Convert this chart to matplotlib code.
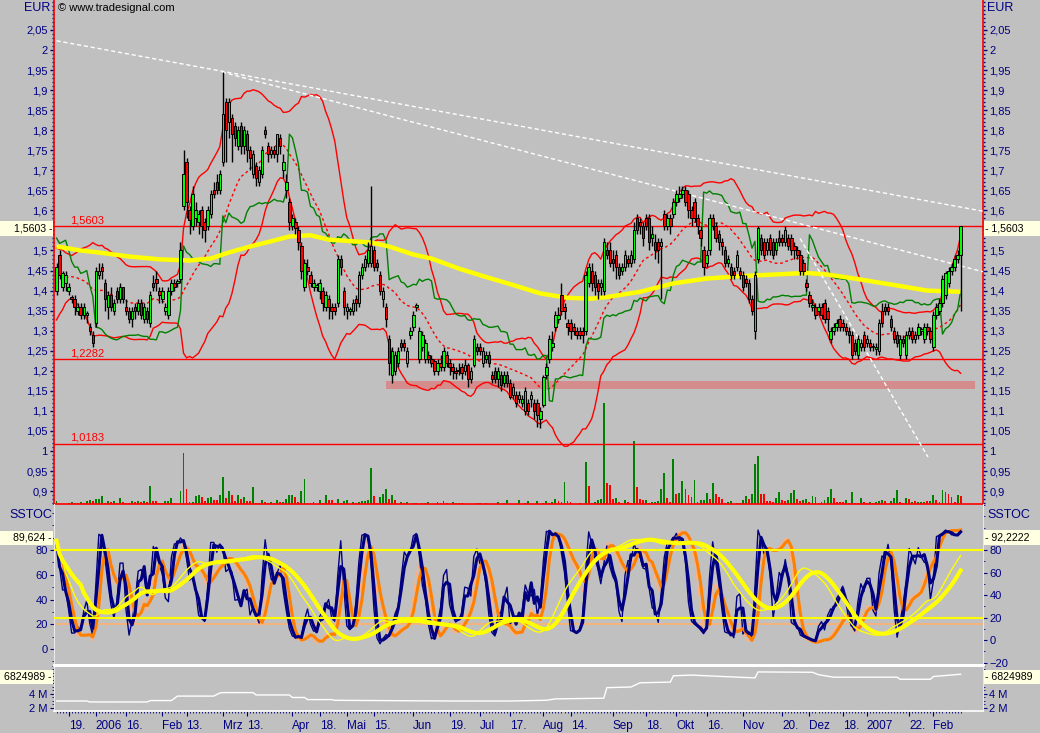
import numpy as np
import pandas as pd
import matplotlib
matplotlib.use("Agg")
import matplotlib.pyplot as plt
from matplotlib.patches import Rectangle
from matplotlib.ticker import FixedLocator, FuncFormatter

plt.rcParams['font.family'] = ['Liberation Sans', 'DejaVu Sans']
plt.rcParams['font.size'] = 8

# ---------------- data ----------------
first_day, last_day = "2005-12-13", "2007-02-14"
holidays = ["2005-12-26", "2006-04-14", "2006-04-17", "2006-05-01",
            "2006-12-25", "2006-12-26", "2007-01-01"]

opens = [
    1.40, 1.49, 1.41, 1.42, 1.40, 1.385, 1.38, 1.35, 1.36, 1.34,
    1.34, 1.31, 1.29, 1.32, 1.44, 1.46, 1.42, 1.36, 1.39, 1.35,
    1.40, 1.38, 1.41, 1.36, 1.35, 1.33, 1.36, 1.35, 1.37, 1.33,
    1.35, 1.32, 1.42, 1.43, 1.40, 1.38, 1.35, 1.34, 1.40, 1.42,
    1.42, 1.43, 1.61, 1.72, 1.60, 1.56, 1.58, 1.57, 1.60, 1.57,
    1.56, 1.59, 1.65, 1.67, 1.65, 1.72, 1.87, 1.82, 1.83, 1.81,
    1.76, 1.81, 1.76, 1.79, 1.75, 1.69, 1.71, 1.67, 1.69, 1.80,
    1.76, 1.74, 1.75, 1.74, 1.78, 1.70, 1.65, 1.62, 1.56, 1.57,
    1.55, 1.51, 1.41, 1.46, 1.44, 1.41, 1.41, 1.40, 1.40, 1.36,
    1.38, 1.36, 1.36, 1.37, 1.48, 1.40, 1.35, 1.35, 1.35, 1.38,
    1.37, 1.44, 1.46, 1.47, 1.47, 1.50, 1.47, 1.44, 1.38, 1.36,
    1.28, 1.19, 1.20, 1.22, 1.27, 1.27, 1.22, 1.29, 1.31, 1.36,
    1.23, 1.26, 1.23, 1.24, 1.23, 1.225, 1.20, 1.22, 1.21, 1.24,
    1.22, 1.21, 1.20, 1.20, 1.21, 1.20, 1.215, 1.18, 1.215, 1.26,
    1.26, 1.22, 1.23, 1.24, 1.19, 1.20, 1.18, 1.19, 1.17, 1.19,
    1.17, 1.14, 1.14, 1.13, 1.12, 1.10, 1.12, 1.13, 1.12, 1.12,
    1.08, 1.115, 1.19, 1.23, 1.26, 1.31, 1.33, 1.39, 1.36, 1.32,
    1.32, 1.31, 1.30, 1.30, 1.30, 1.30, 1.42, 1.45, 1.44, 1.42,
    1.41, 1.40, 1.50, 1.50, 1.48, 1.49, 1.46, 1.45, 1.46, 1.48,
    1.47, 1.48, 1.58, 1.57, 1.56, 1.58, 1.58, 1.53, 1.52, 1.52,
    1.51, 1.59, 1.56, 1.58, 1.59, 1.62, 1.63, 1.64, 1.65, 1.64,
    1.60, 1.62, 1.58, 1.55, 1.50, 1.47, 1.50, 1.58, 1.56, 1.54,
    1.52, 1.50, 1.47, 1.46, 1.45, 1.46, 1.45, 1.44, 1.43, 1.42,
    1.38, 1.30, 1.48, 1.53, 1.52, 1.50, 1.53, 1.52, 1.50, 1.53,
    1.53, 1.52, 1.53, 1.53, 1.51, 1.50, 1.49, 1.47, 1.42, 1.39,
    1.36, 1.36, 1.35, 1.36, 1.37, 1.35, 1.28, 1.30, 1.31, 1.33,
    1.32, 1.31, 1.30, 1.29, 1.27, 1.24, 1.26, 1.29, 1.27, 1.27,
    1.26, 1.255, 1.25, 1.35, 1.36, 1.36, 1.33, 1.30, 1.29, 1.24,
    1.28, 1.24, 1.29, 1.30, 1.28, 1.29, 1.30, 1.28, 1.31, 1.30,
    1.26, 1.34, 1.35, 1.37, 1.39, 1.42, 1.45, 1.46, 1.48, 1.49,
]
highs = [
    1.47, 1.50, 1.45, 1.45, 1.42, 1.39, 1.39, 1.37, 1.37, 1.37,
    1.35, 1.32, 1.30, 1.46, 1.47, 1.47, 1.43, 1.40, 1.41, 1.38,
    1.41, 1.42, 1.41, 1.38, 1.36, 1.36, 1.37, 1.38, 1.38, 1.37,
    1.36, 1.40, 1.44, 1.45, 1.41, 1.41, 1.37, 1.41, 1.43, 1.43,
    1.43, 1.52, 1.75, 1.73, 1.61, 1.66, 1.62, 1.60, 1.61, 1.58,
    1.61, 1.65, 1.67, 1.69, 1.70, 1.945, 1.88, 1.88, 1.84, 1.82,
    1.81, 1.82, 1.81, 1.80, 1.76, 1.75, 1.72, 1.71, 1.76, 1.81,
    1.77, 1.76, 1.76, 1.79, 1.79, 1.74, 1.69, 1.63, 1.59, 1.58,
    1.56, 1.52, 1.48, 1.48, 1.45, 1.43, 1.42, 1.43, 1.41, 1.40,
    1.39, 1.37, 1.37, 1.49, 1.49, 1.41, 1.37, 1.36, 1.38, 1.39,
    1.45, 1.47, 1.49, 1.52, 1.66, 1.51, 1.48, 1.45, 1.41, 1.37,
    1.29, 1.26, 1.25, 1.26, 1.28, 1.28, 1.26, 1.31, 1.35, 1.37,
    1.31, 1.30, 1.28, 1.25, 1.24, 1.23, 1.23, 1.24, 1.26, 1.25,
    1.23, 1.22, 1.21, 1.22, 1.22, 1.23, 1.22, 1.21, 1.29, 1.27,
    1.27, 1.26, 1.25, 1.25, 1.20, 1.21, 1.21, 1.20, 1.20, 1.20,
    1.18, 1.17, 1.15, 1.15, 1.14, 1.16, 1.13, 1.15, 1.13, 1.13,
    1.11, 1.19, 1.22, 1.29, 1.30, 1.35, 1.36, 1.42, 1.37, 1.33,
    1.33, 1.32, 1.31, 1.31, 1.31, 1.45, 1.47, 1.47, 1.45, 1.43,
    1.43, 1.53, 1.52, 1.52, 1.50, 1.50, 1.47, 1.47, 1.50, 1.49,
    1.50, 1.57, 1.59, 1.58, 1.57, 1.59, 1.59, 1.56, 1.54, 1.53,
    1.53, 1.60, 1.59, 1.59, 1.63, 1.65, 1.66, 1.66, 1.66, 1.65,
    1.61, 1.63, 1.59, 1.56, 1.51, 1.50, 1.59, 1.59, 1.57, 1.55,
    1.53, 1.51, 1.49, 1.47, 1.46, 1.50, 1.46, 1.45, 1.44, 1.43,
    1.39, 1.45, 1.56, 1.54, 1.53, 1.53, 1.54, 1.53, 1.53, 1.55,
    1.54, 1.56, 1.54, 1.54, 1.52, 1.51, 1.50, 1.48, 1.43, 1.40,
    1.38, 1.37, 1.37, 1.37, 1.38, 1.36, 1.31, 1.32, 1.33, 1.34,
    1.33, 1.32, 1.31, 1.30, 1.28, 1.29, 1.28, 1.30, 1.29, 1.28,
    1.27, 1.27, 1.33, 1.37, 1.37, 1.37, 1.34, 1.31, 1.30, 1.29,
    1.29, 1.30, 1.31, 1.31, 1.30, 1.32, 1.31, 1.32, 1.32, 1.31,
    1.35, 1.37, 1.38, 1.44, 1.45, 1.46, 1.47, 1.49, 1.50, 1.5603,
]
lows = [
    1.39, 1.43, 1.40, 1.40, 1.39, 1.37, 1.34, 1.34, 1.33, 1.33,
    1.32, 1.29, 1.26, 1.31, 1.43, 1.43, 1.35, 1.33, 1.35, 1.34,
    1.37, 1.37, 1.37, 1.34, 1.32, 1.31, 1.33, 1.34, 1.33, 1.32,
    1.32, 1.31, 1.40, 1.40, 1.37, 1.37, 1.34, 1.33, 1.39, 1.40,
    1.41, 1.42, 1.60, 1.58, 1.54, 1.55, 1.56, 1.54, 1.53, 1.52,
    1.55, 1.58, 1.63, 1.64, 1.64, 1.71, 1.72, 1.78, 1.72, 1.76,
    1.75, 1.74, 1.74, 1.72, 1.70, 1.68, 1.66, 1.66, 1.68, 1.78,
    1.72, 1.73, 1.73, 1.72, 1.74, 1.68, 1.63, 1.55, 1.55, 1.54,
    1.50, 1.43, 1.40, 1.44, 1.41, 1.40, 1.40, 1.38, 1.35, 1.35,
    1.33, 1.33, 1.34, 1.36, 1.44, 1.34, 1.33, 1.34, 1.34, 1.35,
    1.36, 1.43, 1.45, 1.46, 1.46, 1.45, 1.45, 1.39, 1.36, 1.31,
    1.19, 1.17, 1.19, 1.21, 1.25, 1.25, 1.21, 1.28, 1.30, 1.35,
    1.22, 1.25, 1.22, 1.22, 1.21, 1.19, 1.19, 1.20, 1.20, 1.21,
    1.19, 1.18, 1.18, 1.19, 1.18, 1.19, 1.16, 1.17, 1.21, 1.24,
    1.24, 1.21, 1.22, 1.21, 1.17, 1.17, 1.16, 1.15, 1.16, 1.16,
    1.13, 1.13, 1.11, 1.12, 1.11, 1.09, 1.09, 1.11, 1.08, 1.06,
    1.057, 1.11, 1.18, 1.22, 1.25, 1.30, 1.32, 1.34, 1.33, 1.29,
    1.28, 1.29, 1.28, 1.28, 1.27, 1.29, 1.41, 1.40, 1.39, 1.38,
    1.39, 1.39, 1.48, 1.46, 1.45, 1.43, 1.43, 1.44, 1.45, 1.46,
    1.46, 1.47, 1.54, 1.54, 1.51, 1.55, 1.50, 1.51, 1.48, 1.47,
    1.38, 1.55, 1.55, 1.54, 1.58, 1.61, 1.62, 1.63, 1.61, 1.58,
    1.56, 1.57, 1.54, 1.51, 1.44, 1.46, 1.49, 1.55, 1.52, 1.50,
    1.49, 1.46, 1.46, 1.43, 1.43, 1.45, 1.43, 1.40, 1.41, 1.37,
    1.34, 1.28, 1.47, 1.49, 1.48, 1.49, 1.49, 1.48, 1.49, 1.51,
    1.51, 1.51, 1.50, 1.49, 1.48, 1.48, 1.44, 1.44, 1.40, 1.36,
    1.35, 1.33, 1.34, 1.33, 1.32, 1.30, 1.27, 1.29, 1.30, 1.30,
    1.30, 1.29, 1.27, 1.23, 1.24, 1.23, 1.25, 1.25, 1.26, 1.25,
    1.25, 1.24, 1.24, 1.31, 1.34, 1.34, 1.30, 1.27, 1.26, 1.23,
    1.26, 1.23, 1.28, 1.27, 1.27, 1.28, 1.29, 1.27, 1.29, 1.27,
    1.25, 1.33, 1.34, 1.36, 1.38, 1.41, 1.44, 1.45, 1.47, 1.35,
]
closes = [
    1.46, 1.44, 1.445, 1.44, 1.41, 1.38, 1.36, 1.36, 1.34, 1.36,
    1.34, 1.30, 1.27, 1.45, 1.45, 1.45, 1.38, 1.39, 1.36, 1.37,
    1.38, 1.41, 1.38, 1.35, 1.33, 1.35, 1.35, 1.37, 1.34, 1.36,
    1.33, 1.39, 1.41, 1.42, 1.39, 1.40, 1.36, 1.40, 1.42, 1.41,
    1.42, 1.50, 1.69, 1.62, 1.575, 1.64, 1.60, 1.59, 1.56, 1.55,
    1.60, 1.64, 1.64, 1.65, 1.69, 1.84, 1.80, 1.87, 1.79, 1.78,
    1.80, 1.76, 1.80, 1.75, 1.73, 1.74, 1.68, 1.70, 1.75, 1.79,
    1.74, 1.75, 1.74, 1.79, 1.76, 1.72, 1.67, 1.57, 1.58, 1.555,
    1.52, 1.45, 1.47, 1.45, 1.42, 1.42, 1.41, 1.42, 1.37, 1.39,
    1.36, 1.35, 1.35, 1.48, 1.46, 1.36, 1.36, 1.35, 1.37, 1.37,
    1.44, 1.46, 1.48, 1.50, 1.51, 1.46, 1.46, 1.40, 1.40, 1.33,
    1.22, 1.25, 1.24, 1.25, 1.26, 1.26, 1.25, 1.30, 1.34, 1.36,
    1.30, 1.29, 1.27, 1.23, 1.22, 1.20, 1.22, 1.21, 1.25, 1.22,
    1.21, 1.20, 1.195, 1.20, 1.195, 1.215, 1.18, 1.20, 1.28, 1.25,
    1.25, 1.25, 1.24, 1.22, 1.18, 1.18, 1.20, 1.165, 1.19, 1.17,
    1.135, 1.16, 1.12, 1.14, 1.13, 1.15, 1.10, 1.14, 1.10, 1.09,
    1.10, 1.185, 1.21, 1.28, 1.27, 1.34, 1.34, 1.35, 1.35, 1.31,
    1.30, 1.30, 1.29, 1.29, 1.29, 1.44, 1.46, 1.42, 1.41, 1.40,
    1.42, 1.52, 1.49, 1.47, 1.47, 1.46, 1.44, 1.46, 1.49, 1.47,
    1.49, 1.55, 1.55, 1.56, 1.53, 1.56, 1.52, 1.54, 1.50, 1.50,
    1.52, 1.56, 1.58, 1.56, 1.62, 1.64, 1.64, 1.65, 1.62, 1.60,
    1.58, 1.58, 1.56, 1.53, 1.46, 1.49, 1.58, 1.56, 1.53, 1.52,
    1.51, 1.47, 1.48, 1.44, 1.44, 1.49, 1.44, 1.41, 1.42, 1.38,
    1.35, 1.44, 1.555, 1.50, 1.49, 1.52, 1.50, 1.49, 1.52, 1.52,
    1.52, 1.55, 1.51, 1.50, 1.50, 1.49, 1.45, 1.45, 1.41, 1.37,
    1.36, 1.34, 1.36, 1.34, 1.33, 1.33, 1.30, 1.31, 1.32, 1.31,
    1.31, 1.30, 1.29, 1.24, 1.25, 1.28, 1.27, 1.26, 1.28, 1.26,
    1.26, 1.26, 1.32, 1.32, 1.35, 1.35, 1.31, 1.28, 1.27, 1.28,
    1.27, 1.29, 1.30, 1.28, 1.29, 1.31, 1.30, 1.31, 1.30, 1.28,
    1.34, 1.36, 1.37, 1.43, 1.445, 1.45, 1.46, 1.48, 1.49, 1.5603,
]
# closes of the weeks before the visible window (needed by the indicators)
closes_before = [1.33, 1.35, 1.34, 1.37, 1.36, 1.39, 1.40, 1.42, 1.41, 1.44,
                 1.46, 1.45, 1.48, 1.47, 1.44, 1.46, 1.43, 1.45, 1.42]

volume = [
    3, 0, 0, 0, 1, 2, 1, 1, 2, 1,
    3, 4, 3, 5, 5, 8, 1, 3, 2, 3,
    1, 6, 2, 1, 1, 3, 2, 3, 2, 3,
    2, 18, 3, 3, 1, 1, 3, 3, 6, 1,
    0, 13, 51, 15, 2, 2, 8, 9, 7, 3,
    6, 7, 4, 4, 9, 27, 6, 13, 9, 3,
    9, 5, 7, 3, 3, 17, 1, 1, 4, 2,
    1, 2, 1, 4, 2, 2, 5, 9, 9, 7,
    2, 13, 25, 1, 1, 2, 0, 4, 1, 9,
    4, 4, 1, 5, 1, 3, 4, 0, 2, 1,
    2, 3, 3, 4, 36, 8, 1, 7, 10, 15,
    5, 9, 4, 0, 2, 1, 2, 0, 1, 1,
    0, 1, 1, 2, 0, 0, 2, 1, 3, 1,
    0, 2, 1, 1, 1, 0, 0, 0, 0, 1,
    1, 0, 1, 0, 0, 0, 2, 0, 1, 4,
    0, 0, 0, 4, 0, 1, 3, 0, 0, 3,
    0, 1, 3, 1, 2, 5, 3, 2, 22, 3,
    2, 0, 0, 1, 0, 42, 18, 1, 2, 4,
    5, 101, 21, 19, 5, 6, 2, 1, 4, 2,
    1, 63, 17, 5, 4, 4, 1, 2, 2, 3,
    15, 31, 6, 2, 45, 10, 11, 23, 15, 9,
    7, 24, 2, 4, 4, 11, 5, 21, 10, 7,
    5, 1, 2, 3, 0, 1, 1, 4, 8, 5,
    10, 40, 48, 10, 10, 3, 3, 2, 6, 12,
    4, 3, 4, 11, 14, 5, 3, 4, 5, 2,
    8, 7, 1, 2, 4, 7, 15, 6, 2, 2,
    2, 4, 1, 12, 1, 1, 6, 2, 1, 2,
    1, 2, 3, 4, 3, 0, 3, 6, 14, 2,
    1, 6, 5, 2, 3, 2, 2, 2, 3, 3,
    9, 4, 2, 14, 12, 10, 7, 2, 9, 8,
]
volume_dir = ("ggggggrggr" "ggrgggrgrg" "rgrrrgrgrg" "rgrrrggggr" "gggrrgggrr"
              "ggrrggrgrr" "grgrrgrggr" "rgrgrggggr" "rggrrgggrg" "rrrgrggggr"
              "gggggrrggg" "rgrggrgggr" "ggrggggrgr" "ggrgrggggg" "gggggggggg"
              "gggggggggg" "gggrggrrgr" "rgggggrrgg" "ggrrrgrrgr" "rgrrrgrggg"
              "ggrrgrggrr" "rgrgggrgrr" "rrgggggggr" "gggrrrrrgg" "rrgggrrggr"
              "grrggggrrr" "rgrgrrgrrg" "rgggrggggr" "rgrgrgggrg" "grrgrrrrgr")

# long moving average (yellow)
ma_bar = [0, 8, 14, 24, 34, 44, 51, 57, 64, 71, 77, 84, 90, 104, 110, 118, 124, 133,
          142, 151, 160, 169, 177, 182, 193, 204, 215, 226, 237, 248, 255, 264, 272,
          277, 288, 299]
ma_vals = [1.51, 1.50, 1.495, 1.485, 1.478, 1.475, 1.48, 1.495, 1.51, 1.523, 1.535,
           1.538, 1.527, 1.52, 1.51, 1.49, 1.48, 1.455, 1.434, 1.414, 1.393, 1.382,
           1.38, 1.384, 1.397, 1.418, 1.43, 1.436, 1.44, 1.444, 1.44, 1.43, 1.42,
           1.414, 1.40, 1.397]

# trend lines (bar index, price)
trend_bars = [[0, 306.4], [54.7, 306.4], [245.9, 288.2]]
trend_vals = [[2.023, 1.598], [1.945, 1.447], [1.53, 0.985]]

# horizontal levels and support zone
levels = [1.5603, 1.2282, 1.0183]
level_labels = ["1,5603", "1,2282", "1,0183"]
zone_bars = [109, 303.7]
zone_vals = [1.155, 1.175]

# lower panel line (millions)
cum_bar = [0, 10, 11, 30, 31, 38, 40, 52, 54, 55, 65, 66, 77, 78, 82, 83, 91, 92, 110,
           130, 150, 162, 165, 181, 182, 190, 193, 203, 204, 210, 220, 231, 232, 250,
           252, 257, 278, 279, 289, 290, 299]
cum_vals = [3.0, 3.0, 2.86, 2.86, 3.06, 3.06, 3.7, 3.7, 4.14, 4.2, 4.2, 3.86, 3.86,
            3.5, 3.5, 3.2, 3.2, 3.1, 3.05, 3.0, 3.0, 3.1, 3.3, 3.4, 4.9, 5.0, 5.6,
            5.7, 6.6, 6.7, 6.5, 6.3, 7.15, 7.1, 6.76, 6.4, 6.4, 6.1, 6.1, 6.5, 6.82]

last_price_text = "1,5603"
stoch_left_text = "89,624"
stoch_right_text = "92,2222"
cum_text = "6824989"

xtick_dates = ["2005-12-19", "2006-01-02", "2006-01-16", "2006-02-01", "2006-02-13",
               "2006-03-01", "2006-03-13", "2006-04-03", "2006-04-18", "2006-05-02",
               "2006-05-15", "2006-06-01", "2006-06-19", "2006-07-03", "2006-07-17",
               "2006-08-01", "2006-08-14", "2006-09-01", "2006-09-18", "2006-10-02",
               "2006-10-16", "2006-11-01", "2006-11-20", "2006-12-01", "2006-12-18",
               "2007-01-02", "2007-01-22", "2007-02-01"]
xtick_labels = ["19.", "2006", "16.", "Feb", "13.", "Mrz", "13.", "Apr", "18.", "Mai",
                "15.", "Jun", "19.", "Jul", "17.", "Aug", "14.", "Sep", "18.", "Okt",
                "16.", "Nov", "20.", "Dez", "18.", "2007", "22.", "Feb"]

# ---------------- derived series ----------------
n = min(len(opens), len(highs), len(lows), len(closes), len(volume), len(volume_dir))
o = np.array(opens[:n]); h = np.array(highs[:n]); l = np.array(lows[:n]); c = np.array(closes[:n])
x = np.arange(n)
days = pd.bdate_range(first_day, last_day)
days = days[~days.isin(pd.to_datetime(holidays))][:n]

# bollinger bands 20 / 2
allc = pd.Series(closes_before + list(c))
off = len(closes_before)
m20 = allc.rolling(20, min_periods=1).mean()
s20 = allc.rolling(20, min_periods=1).std(ddof=0)
bb_mid = m20.values[off:]
bb_up = (m20 + 2 * s20).values[off:]
bb_lo = (m20 - 2 * s20).values[off:]

hs, lw_, cs = pd.Series(h), pd.Series(l), pd.Series(c)

# volatility stop (ATR based, flips side when the close crosses it)
prev_c = cs.shift().fillna(closes_before[-1])
true_range = pd.concat([hs - lw_, (hs - prev_c).abs(), (lw_ - prev_c).abs()], axis=1).max(axis=1)
tr_all = pd.Series(list(np.abs(np.diff(closes_before))) + list(true_range))
atr = tr_all.rolling(21, min_periods=1).mean().values[-n:]
vstop = np.empty(n)
side, sic = -1, c[0]
for i in range(n):
    if side < 0:
        sic = min(sic, c[i])
        s = sic + 3 * atr[i]
        if c[i] > s:
            side, sic = 1, c[i]
            s = sic - 3 * atr[i]
    else:
        sic = max(sic, c[i])
        s = sic - 3 * atr[i]
        if c[i] < s:
            side, sic = -1, c[i]
            s = sic + 3 * atr[i]
    vstop[i] = s


def stoch(period):
    hh = hs.rolling(period, min_periods=1).max()
    ll = lw_.rolling(period, min_periods=1).min()
    return 100 * (cs - ll) / (hh - ll)


fast = stoch(5)
k_fast = fast.rolling(2, min_periods=1).mean()
k_slow = fast.rolling(3, min_periods=1).mean()
mid = stoch(12)
d_fast = mid.rolling(3, min_periods=1).mean()
d_slow = d_fast.rolling(3, min_periods=1).mean()
longk = stoch(30).rolling(15, min_periods=1).mean()
y_fast = longk.rolling(3, min_periods=1).mean()
y_slow = longk.rolling(9, min_periods=1).mean()

# ---------------- figure ----------------
BG = '#c0c0c0'
NAVY = '#000080'
W, H = 1040, 733
XL, XR = 54, 983
fig = plt.figure(figsize=(W / 100, H / 100), dpi=100, facecolor=BG)


def frame(top, bottom):
    return [XL / W, 1 - bottom / H, (XR - XL) / W, (bottom - top) / H]


xlim = (-0.83, 306.4)

# volume under the price panel
vax = fig.add_axes(frame(0, 504))
vcol = ['#008000' if d == 'g' else '#ff0000' for d in volume_dir[:n]]
vax.bar(x, volume[:n], width=0.62, color=vcol, linewidth=0)
vax.set_xlim(*xlim)
vax.set_ylim(0, 5 * max(volume))
vax.axis('off')

# price panel
ax = fig.add_axes(frame(0, 504), sharex=vax)
ax.patch.set_visible(False)
ax.add_patch(Rectangle((zone_bars[0], zone_vals[0]), zone_bars[1] - zone_bars[0],
                       zone_vals[1] - zone_vals[0], facecolor='#d48c8c',
                       edgecolor='none', zorder=1))
for lvl, lab in zip(levels, level_labels):
    ax.axhline(lvl, color='#ff0000', lw=1, zorder=2)
    ax.text(4.5, lvl + 0.003, lab, color='#ff0000', fontsize=8, va='bottom', zorder=2)

ax.plot(x, bb_up, color='#ff0000', lw=1, zorder=3)
ax.plot(x, bb_lo, color='#ff0000', lw=1, zorder=3)
ax.plot(x, bb_mid, color='#ff0000', lw=1, ls=(0, (2, 2)), zorder=3)
ax.plot(x, vstop, color='#008000', lw=1, zorder=3)
ax.plot(ma_bar, ma_vals, color='#ffff00', lw=3.2, zorder=3, solid_capstyle='butt')
for tb, tv in zip(trend_bars, trend_vals):
    ax.plot(tb, tv, color='white', lw=1, ls=(0, (3, 2)), zorder=4)

ax.vlines(x, l, h, color='black', lw=1, zorder=5)
body_bottom = np.minimum(o, c)
body_height = np.maximum(np.abs(c - o), 0.003)
body_col = np.where(c >= o, '#00ff00', '#ff0000')
ax.bar(x, body_height, bottom=body_bottom, width=0.8, color=body_col,
       edgecolor='black', linewidth=0.7, zorder=6)

ax.set_xlim(*xlim)
ax.set_ylim(0.8678, 2.1247)
ax.yaxis.set_major_locator(FixedLocator(np.round(np.arange(0.90, 2.051, 0.05), 2)))
ax.yaxis.set_minor_locator(FixedLocator(np.round(np.arange(0.87, 2.125, 0.01), 2)))


def price_fmt(v, p):
    if abs(v - 1.55) < 1e-6:      # hidden behind the last-price box
        return ''
    return ('%.2f' % v).rstrip('0').rstrip('.').replace('.', ',')


ax.yaxis.set_major_formatter(FuncFormatter(price_fmt))
ax.tick_params(axis='y', which='both', left=True, right=True, labelleft=True,
               labelright=True, colors=NAVY, labelsize=8, direction='out')
ax.tick_params(axis='y', which='major', length=3, width=1, pad=1.5)
ax.tick_params(axis='y', which='minor', length=1.5, width=1)
ax.tick_params(axis='x', which='both', bottom=False, labelbottom=False)
for s in ['left', 'right', 'bottom']:
    ax.spines[s].set_color('#ff0000')
    ax.spines[s].set_linewidth(1.2)
ax.spines['top'].set_visible(False)

# stochastic panel
ax2 = fig.add_axes(frame(504, 665), sharex=ax)
ax2.patch.set_visible(False)
ax2.axhline(20, color='#ffb070', lw=1.2, zorder=2)
ax2.plot(x, d_fast, color='#ffb080', lw=1, zorder=3)
ax2.plot(x, k_fast, color=NAVY, lw=1, zorder=3)
ax2.plot(x, d_slow, color='#ff8000', lw=2.2, zorder=4)
ax2.plot(x, k_slow, color=NAVY, lw=2.2, zorder=4)
ax2.plot(x, y_fast, color='#ffff00', lw=1, zorder=5)
ax2.plot(x, y_slow, color='#ffff00', lw=3, zorder=5)
ax2.set_ylim(-12.9, 117.2)
ax2.yaxis.set_major_locator(FixedLocator([0, 20, 40, 60, 80]))
ax2.yaxis.set_minor_locator(FixedLocator(range(-10, 111, 10)))
ax2.tick_params(axis='y', which='both', left=True, right=False, colors=NAVY,
                labelsize=8, direction='out')
ax2.tick_params(axis='y', which='major', length=3, pad=1.5)
ax2.tick_params(axis='y', which='minor', length=1.5)
ax2.tick_params(axis='x', which='both', bottom=False, labelbottom=False)

ax2r = ax2.twinx()
ax2r.set_ylim(-22.2, 120.9)
ax2r.axhline(80, color='#ffff00', lw=1.5)
ax2r.axhline(20, color='#ffff00', lw=1.5)
ax2r.yaxis.set_major_locator(FixedLocator([-20, 0, 20, 40, 60, 80]))
ax2r.yaxis.set_minor_locator(FixedLocator(range(-20, 121, 10)))
ax2r.tick_params(axis='y', which='both', right=True, left=False, colors=NAVY,
                 labelsize=8, direction='out')
ax2r.tick_params(axis='y', which='major', length=3, pad=1.5)
ax2r.tick_params(axis='y', which='minor', length=1.5)
for a in (ax2, ax2r):
    a.spines['top'].set_visible(False)
ax2.spines['left'].set_color('#e8e8e8')
ax2.spines['right'].set_visible(False)
ax2.spines['bottom'].set_color('white')
ax2.spines['bottom'].set_linewidth(2)
ax2r.spines['left'].set_visible(False)
ax2r.spines['bottom'].set_visible(False)
ax2r.spines['right'].set_color('#e8e8e8')

# lower panel
ax3 = fig.add_axes(frame(665, 711), sharex=ax)
ax3.patch.set_visible(False)
ax3.plot(cum_bar, cum_vals, color='white', lw=1)
ax3.set_ylim(1.57, 8.14)
ax3.yaxis.set_major_locator(FixedLocator([2, 4]))
ax3.yaxis.set_minor_locator(FixedLocator(np.arange(2, 8.1, 0.5)))
ax3.yaxis.set_major_formatter(FuncFormatter(lambda v, p: '%d M' % v))
ax3.tick_params(axis='y', which='both', left=True, right=True, labelleft=True,
                labelright=True, colors=NAVY, labelsize=8, direction='out')
ax3.tick_params(axis='y', which='major', length=3, pad=1.5)
ax3.tick_params(axis='y', which='minor', length=1.5)
pos = [days.get_loc(pd.Timestamp(d)) for d in xtick_dates]
ax3.set_xticks(pos)
ax3.set_xticklabels(xtick_labels, ha='left')
ax3.xaxis.set_minor_locator(FixedLocator(x))
ax3.tick_params(axis='x', which='major', length=3.5, colors=NAVY, labelsize=8.5, pad=3)
ax3.tick_params(axis='x', which='minor', length=1.5, color=NAVY)
ax3.set_xlim(*xlim)
for s in ['left', 'right']:
    ax3.spines[s].set_color('#e8e8e8')
ax3.spines['top'].set_color('white')
ax3.spines['top'].set_linewidth(2)
ax3.spines['bottom'].set_color('white')
ax3.spines['bottom'].set_linewidth(1.2)

# header texts
fig.text(50 / W, 1 - 8 / H, 'EUR', ha='right', va='center', color=NAVY, fontsize=9)
fig.text(987 / W, 1 - 8 / H, 'EUR', ha='left', va='center', color=NAVY, fontsize=9)
fig.text(58 / W, 1 - 8 / H, '\u00a9 www.tradesignal.com', ha='left', va='center',
         color='black', fontsize=8)
fig.text(52 / W, 1 - 515 / H, 'SSTOC', ha='right', va='center', color=NAVY, fontsize=9)
fig.text(987 / W, 1 - 515 / H, 'SSTOC', ha='left', va='center', color=NAVY, fontsize=9)


def value_box(x0, x1, ytop, ybot, text, ha):
    fig.add_artist(Rectangle((x0 / W, 1 - ybot / H), (x1 - x0) / W, (ybot - ytop) / H,
                             transform=fig.transFigure, facecolor='#ffffe1',
                             edgecolor='none', zorder=10))
    tx = x1 - 1 if ha == 'right' else x0 + 1
    fig.text(tx / W, 1 - (ytop + ybot) / 2 / H, text, ha=ha, va='center',
             color='black', fontsize=7.6, zorder=11)


value_box(0, 53, 221, 236, last_price_text + ' -', 'right')
value_box(984, 1040, 221, 236, '- ' + last_price_text, 'left')
value_box(0, 53, 531, 545, stoch_left_text + ' -', 'right')
value_box(984, 1040, 530, 545, '- ' + stoch_right_text, 'left')
value_box(0, 53, 670, 684, cum_text + ' -', 'right')
value_box(984, 1040, 670, 684, '- ' + cum_text, 'left')

fig.savefig('out.png', dpi=100, facecolor=BG)
